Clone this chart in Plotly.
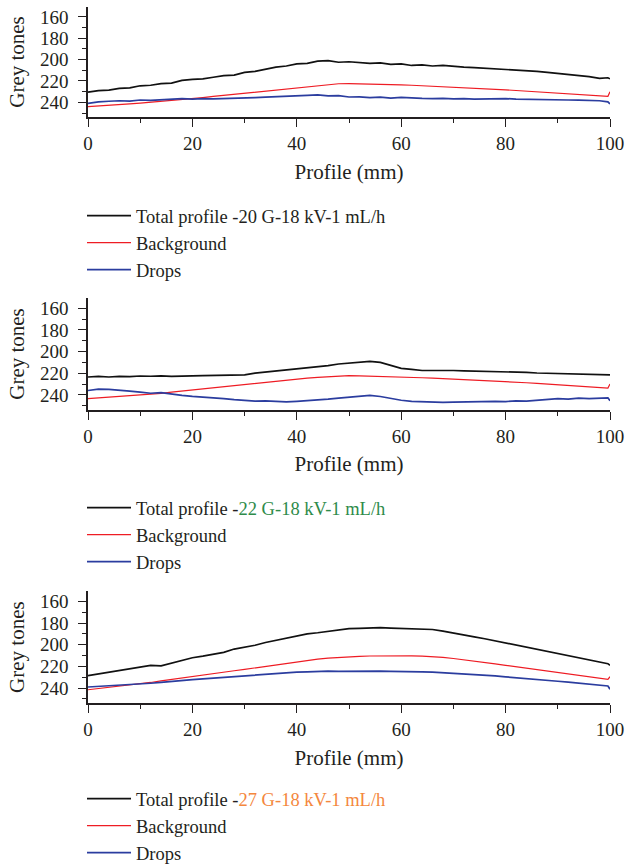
import plotly.graph_objects as go

X = [0, 2, 4, 6, 8, 10, 12, 14, 16, 18, 20, 22, 24, 26, 28, 30, 32, 34, 36, 38, 40,
     42, 44, 46, 48, 50, 52, 54, 56, 58, 60, 62, 64, 66, 68, 70, 72, 74, 76, 78, 80,
     82, 84, 86, 88, 90, 92, 94, 96, 98, 99.6, 100]

# Panel 1: -20 G
total_20 = [230.5, 229, 228.5, 227, 226.5, 224.5, 224, 222.5, 222, 219.5, 218.5, 218, 216.5, 215, 214.5, 212,
            211, 209, 207, 206, 204, 203.5, 201.5, 201, 202.5, 202, 203, 203.5, 203, 204.5, 204, 205.5,
            205, 206, 205.5, 206.5, 207, 207.5, 208, 209, 209, 209.5, 210.5, 211, 212, 213, 213.5, 215,
            216, 217.5, 217, 218]
background_20 = [244, 243.5, 243, 242.3, 241.5, 240.8, 240, 239.2, 238.3, 237.4, 236.5, 235.5, 234.5, 233.5,
                 232.5, 231.5, 230.5, 229.3, 228.2, 227, 226, 225, 224, 223.2, 222.6, 222.5, 222.6, 222.8,
                 223, 223.3, 223.6, 224, 224.4, 224.8, 225.2, 225.7, 226.2, 226.7, 227.2, 227.8, 228.3,
                 228.9, 229.5, 230.1, 230.7, 231.3, 231.9, 232.5, 233.2, 234, 234.4, 230]
drops_20 = [241, 239.5, 239, 238.5, 238.8, 237.8, 238.2, 237.5, 237.2, 236.5, 237, 236.5, 236.8, 236.3, 236.5,
            236, 235.5, 235.2, 234.8, 235, 234.5, 233.5, 233, 234, 233.8, 235, 234.8, 235.5, 235.2, 236,
            235.4, 236, 236.3, 236.5, 236.2, 236.8, 236.5, 237, 236.8, 237, 236.5, 237, 237.3, 237.5,
            237.2, 238, 237.8, 238, 238.3, 238.5, 239.5, 241.5]

# Panel 2: -22 G
total_22 = [223.5, 223, 223.5, 223, 223.2, 222.6, 222.8, 222.5, 223, 222.5, 222.5, 222.2, 222, 221.8, 222,
            221.5, 220, 219, 218.5, 217, 216, 215, 214, 213, 211.5, 210.5, 209.5, 209, 210, 212.5, 215.5,
            216.5, 217.5, 217.5, 217.2, 217.5, 217.8, 218, 218.2, 218.3, 218.5, 219, 219.3, 219.8, 220,
            220.5, 221, 221.2, 221.3, 221, 221.5, 221.5]
background_22 = [243.5, 242.8, 242.2, 241.6, 241, 240.2, 239.4, 238.6, 237.4, 236.4, 235.4, 234.4, 233.4,
                 232.3, 231.2, 230.1, 229, 228, 227, 226.2, 225.4, 224.6, 223.8, 223.2, 222.6, 222.3, 222.4,
                 222.6, 222.8, 223.1, 223.4, 223.8, 224.2, 224.6, 225, 225.4, 225.8, 226.2, 226.7, 227.1,
                 227.6, 228.2, 228.8, 229.4, 230, 230.6, 231.2, 231.8, 232.5, 233.2, 233.8, 230]
drops_22 = [236, 234.8, 235, 235.5, 236.5, 237.5, 238.5, 238, 239.5, 240.5, 241.5, 242, 242.5, 243.5, 244.5,
            245.5, 245.8, 245.5, 246, 246.5, 246, 245.5, 245, 244, 243, 242, 241, 240.5, 241.5, 243.5, 245,
            246, 246.5, 246.8, 247, 246.8, 246.5, 246.8, 246.5, 246, 246.2, 245.5, 245.8, 245, 244.5,
            243.5, 244, 243, 243.5, 243, 242.8, 245.5]

# Panel 3: -27 G
total_27 = [228.5, 227, 225.5, 224, 222, 220.5, 219, 219.5, 217, 214, 212, 210.5, 209, 207, 204, 202.5,
            200.5, 198, 196, 193.5, 191.5, 190, 189, 187.5, 186, 185.2, 185, 184.6, 184.3, 184.8, 185, 185,
            185.2, 186, 187.5, 189.5, 191, 192.8, 194.5, 196.5, 198.2, 200.5, 202.5, 204.5, 206.5, 208.6,
            210.5, 212.5, 214.5, 216.5, 217.5, 219]
background_27 = [241.5, 240.5, 239.5, 238.5, 237.3, 236.2, 234.8, 233.4, 232, 230.5, 229, 227.8, 226.5,
                 225.2, 224, 222.7, 221.3, 220, 218.6, 217.2, 215.8, 214.5, 213.3, 212.3, 211.6, 211.1,
                 210.7, 210.4, 210.2, 210.1, 210.2, 210.3, 210.6, 211, 211.7, 212.7, 213.8, 215, 216.3,
                 217.6, 219, 220.3, 221.5, 222.8, 224, 225.2, 226.5, 227.9, 229.3, 230.8, 232, 229.5]
drops_27 = [239, 238.5, 237.8, 237.5, 236.8, 236.2, 235.5, 234.8, 233.8, 232.8, 232.2, 231.5, 230.8, 229.8,
            229, 228.3, 227.8, 227, 226.5, 226, 225.3, 225, 224.5, 224.3, 224.5, 224.3, 224.2, 224.5, 224.3,
            224.6, 224.6, 224.8, 225, 225.3, 225.8, 226.5, 227, 227.5, 228.2, 228.8, 229.6, 230.3, 231,
            231.8, 232.6, 233.7, 234.5, 235.3, 236.2, 237, 238, 241]

Y_TICKS = [160, 180, 200, 220, 240]
X_TICKS = [0, 20, 40, 60, 80, 100]

TEXT = "#231f20"
BLACK = "#111111"
RED = "#ee1c24"
BLUE = "#2b3d9f"
GREEN = "#2e8b4a"
ORANGE = "#f4873d"
FONT = "Liberation Serif"

panels = [
    (total_20, background_20, drops_20, "Total profile -20 G-18 kV-1 mL/h"),
    (total_22, background_22, drops_22,
     "Total profile -<span style='color:%s'>22 G-18 kV-1 mL/h</span>" % GREEN),
    (total_27, background_27, drops_27,
     "Total profile -<span style='color:%s'>27 G-18 kV-1 mL/h</span>" % ORANGE),
]

H = 865.0
W = 626.0
plot_px = [(6.7, 117.3), (298.0, 410.0), (591.0, 703.3)]
legend_top_px = [197, 489, 780]

fig = go.Figure()
layout = dict(
    width=626, height=865,
    margin=dict(l=0, r=0, t=0, b=0, autoexpand=False),
    paper_bgcolor="white", plot_bgcolor="white",
    font=dict(family=FONT, size=19, color=TEXT),
    showlegend=True,
)

for i, (tot, bg, dr, label) in enumerate(panels):
    n = i + 1
    xa = "x" if n == 1 else "x%d" % n
    ya = "y" if n == 1 else "y%d" % n
    lg = "legend" if n == 1 else "legend%d" % n
    for vals, name, col, w in [(tot, label, BLACK, 1.7), (bg, "Background", RED, 1.2), (dr, "Drops", BLUE, 1.7)]:
        fig.add_trace(go.Scatter(x=X, y=vals, mode="lines", name=name, xaxis=xa, yaxis=ya,
                                 line=dict(color=col, width=w), legend=lg))
    top, bot = plot_px[i]
    xkey = "xaxis" if n == 1 else "xaxis%d" % n
    ykey = "yaxis" if n == 1 else "yaxis%d" % n
    layout[xkey] = dict(
        domain=[88 / W, 610 / W], anchor=ya, range=[0, 100],
        tickvals=X_TICKS, ticks="outside", ticklen=8, tickwidth=1.3, tickcolor=TEXT,
        minor=dict(dtick=10, tick0=0, ticks="outside", ticklen=4, tickwidth=1.3, tickcolor=TEXT),
        showline=True, linecolor=TEXT, linewidth=1.5, showgrid=False, zeroline=False,
        tickfont=dict(family=FONT, size=19, color=TEXT), ticklabelstandoff=0,
        title=dict(text="Profile (mm)", font=dict(family=FONT, size=21, color=TEXT), standoff=11),
        automargin=False,
    )
    layout[ykey] = dict(
        domain=[1 - bot / H, 1 - top / H], anchor=xa, range=[254, 150.5],
        tickvals=Y_TICKS, ticks="outside", ticklen=8, tickwidth=1.3, tickcolor=TEXT,
        minor=dict(dtick=10, tick0=0, ticks="outside", ticklen=4, tickwidth=1.3, tickcolor=TEXT),
        showline=True, linecolor=TEXT, linewidth=1.5, showgrid=False, zeroline=False,
        tickfont=dict(family=FONT, size=19, color=TEXT), ticklabelstandoff=6,
        title=dict(text="Grey tones", font=dict(family=FONT, size=21, color=TEXT), standoff=10),
        automargin=False,
    )
    layout[lg] = dict(
        x=82 / W, xanchor="left", y=1 - legend_top_px[i] / H, yanchor="top",
        bgcolor="rgba(0,0,0,0)", borderwidth=0, itemwidth=44, tracegroupgap=0,
        font=dict(family=FONT, size=18.5, color=TEXT), itemclick=False,
    )

fig.update_layout(**layout)
fig.write_html("out.html")
